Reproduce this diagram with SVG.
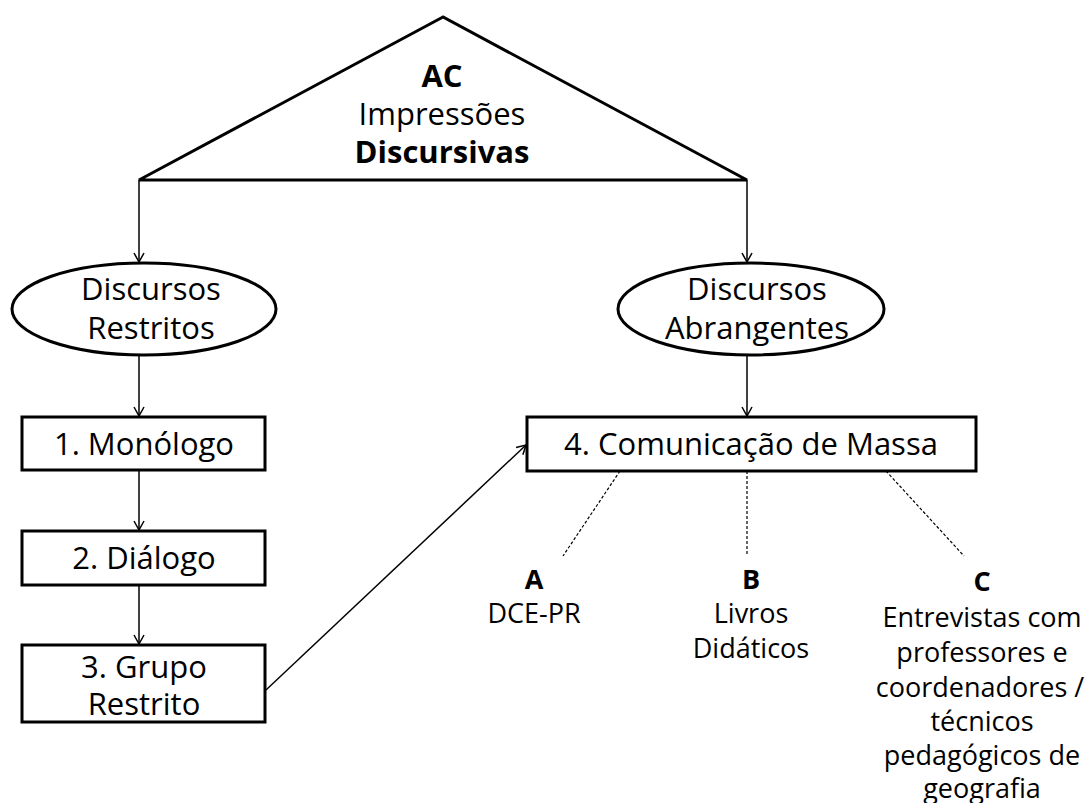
<svg xmlns="http://www.w3.org/2000/svg" width="1092" height="803" viewBox="0 0 1092 803">
<style>
.shape{fill:#fff;stroke:#000;stroke-width:3}
.conn{fill:none;stroke:#000;stroke-width:1.5}
.dash{fill:none;stroke:#000;stroke-width:1.2;stroke-dasharray:3 2}
text{font-family:"Open Sans","Liberation Sans",sans-serif;fill:#000;text-anchor:middle}
.big{font-size:31px}
.sm{font-size:27px}
.b{font-weight:bold}
</style>
<defs>
<marker id="arr" markerWidth="16" markerHeight="16" refX="10" refY="6" orient="auto" markerUnits="userSpaceOnUse">
<path d="M1,1 L10,6 L1,11" fill="none" stroke="#000" stroke-width="1.5"/>
</marker>
</defs>
<g id="connectors">
<line class="conn" x1="139" y1="180" x2="139" y2="262" marker-end="url(#arr)"/>
<line class="conn" x1="747" y1="180" x2="747" y2="262" marker-end="url(#arr)"/>
<line class="conn" x1="139" y1="355" x2="139" y2="416" marker-end="url(#arr)"/>
<line class="conn" x1="747" y1="355" x2="747" y2="416" marker-end="url(#arr)"/>
<line class="conn" x1="139" y1="470" x2="139" y2="530" marker-end="url(#arr)"/>
<line class="conn" x1="139" y1="585" x2="139" y2="644" marker-end="url(#arr)"/>
<line class="conn" x1="266" y1="690" x2="526" y2="445" marker-end="url(#arr)"/>
<line class="dash" x1="620" y1="471" x2="563" y2="556"/>
<line class="dash" x1="747" y1="471" x2="747" y2="556"/>
<line class="dash" x1="886" y1="471" x2="964" y2="556"/>
</g>
<g id="node-ac">
<polygon class="shape" points="443,17 139,180 747,180"/>
<text class="big b" x="442" y="87">AC</text>
<text class="big" x="442" y="125">Impressões</text>
<text class="big b" x="442" y="163">Discursivas</text>
</g>
<g id="node-restritos">
<ellipse class="shape" cx="144" cy="309" rx="132" ry="46"/>
<text class="big" x="151" y="300">Discursos</text>
<text class="big" x="151" y="339">Restritos</text>
</g>
<g id="node-abrangentes">
<ellipse class="shape" cx="751" cy="309" rx="133" ry="46"/>
<text class="big" x="757" y="300">Discursos</text>
<text class="big" x="757" y="339">Abrangentes</text>
</g>
<g id="node-monologo">
<rect class="shape" x="22" y="417" width="243" height="53"/>
<text class="big" x="144" y="455">1. Monólogo</text>
</g>
<g id="node-dialogo">
<rect class="shape" x="22" y="531" width="243" height="54"/>
<text class="big" x="144" y="569">2. Diálogo</text>
</g>
<g id="node-grupo">
<rect class="shape" x="22" y="645" width="243" height="77"/>
<text class="big" x="144" y="678">3. Grupo</text>
<text class="big" x="144" y="715">Restrito</text>
</g>
<g id="node-massa">
<rect class="shape" x="527" y="417" width="449" height="54"/>
<text class="big" x="751" y="455">4. Comunicação de Massa</text>
</g>
<g id="node-a">
<text class="sm b" x="534" y="589">A</text>
<text class="sm" x="534" y="623">DCE-PR</text>
</g>
<g id="node-b">
<text class="sm b" x="751" y="589">B</text>
<text class="sm" x="751" y="623">Livros</text>
<text class="sm" x="751" y="658">Didáticos</text>
</g>
<g id="node-c">
<text class="sm b" x="982" y="591">C</text>
<text class="sm" x="982" y="627">Entrevistas com</text>
<text class="sm" x="982" y="662">professores e</text>
<text class="sm" x="980" y="697">coordenadores /</text>
<text class="sm" x="982" y="731">técnicos</text>
<text class="sm" x="982" y="765">pedagógicos de</text>
<text class="sm" x="982" y="798">geografia</text>
</g>
</svg>
